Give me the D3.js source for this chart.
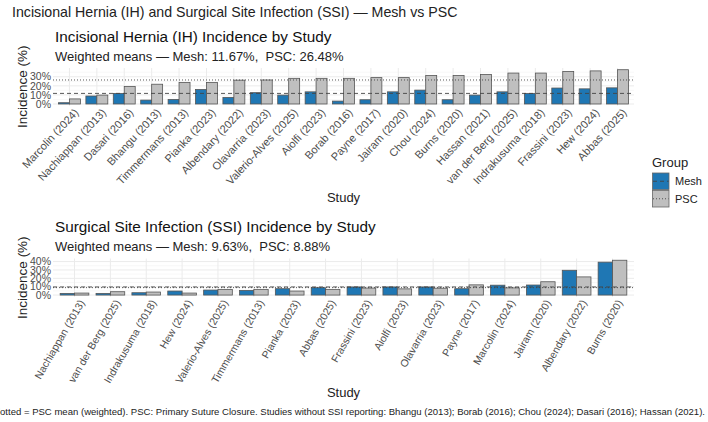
<!DOCTYPE html>
<html><head><meta charset="utf-8">
<script src="https://cdn.jsdelivr.net/npm/d3@7"></script>
<style>
html,body{margin:0;padding:0;background:#fff;}
svg{display:block;font-family:"Liberation Sans",Arial,sans-serif;}
text{white-space:pre;}
</style></head>
<body><svg id="chart" width="708" height="422"></svg>
<script>
// ---------- data ----------
const ihStudies = ["Marcolin (2024)","Nachiappan (2013)","Dasari (2016)","Bhangu (2013)","Timmermans (2013)","Pianka (2023)","Albendary (2022)","Olavarria (2023)","Valerio-Alves (2025)","Aiolfi (2023)","Borab (2016)","Payne (2017)","Jairam (2020)","Chou (2024)","Burns (2020)","Hassan (2021)","van der Berg (2025)","Indrakusuma (2018)","Frassini (2023)","Hew (2024)","Abbas (2025)"];
const ihMesh = [1.4,8.8,11.7,4.3,5.0,16.0,7.3,12.5,9.8,13.4,3.2,4.7,13.4,15.3,4.7,9.8,13.4,11.7,17.6,16.7,17.8];
const ihPSC  = [5.6,9.8,19.3,21.8,23.7,23.7,26.3,26.5,28.3,28.3,28.3,29.1,29.1,31.4,31.4,32.5,34.1,34.1,35.9,36.5,37.8];
const ihMeans = [11.67, 26.48];

const ssiStudies = ["Nachiappan (2013)","van der Berg (2025)","Indrakusuma (2018)","Hew (2024)","Valerio-Alves (2025)","Timmermans (2013)","Pianka (2023)","Abbas (2025)","Frassini (2023)","Aiolfi (2023)","Olavarria (2023)","Payne (2017)","Marcolin (2024)","Jairam (2020)","Albendary (2022)","Burns (2020)"];
const ssiMesh = [2.0,2.0,2.8,4.8,6.0,5.6,7.6,8.8,9.7,9.7,9.7,7.6,11.8,12.0,29.6,39.3];
const ssiPSC  = [2.4,4.0,3.6,2.4,6.8,6.8,4.8,6.8,8.4,7.4,8.2,12.2,8.6,15.9,21.7,41.6];
const ssiMeans = [9.63, 8.88];

const groups = ["Mesh","PSC"];
const groupFill = ["#1f77b4","#bfbfbf"];
const groupDash = ["4,3","1,2"];
const ihTicks = [0,10,20,30];
const ssiTicks = [0,10,20,30,40];

// ---------- drawing ----------
const svg = d3.select("#chart");

svg.append("text").attr("x",12).attr("y",17).attr("font-size",14.2).attr("fill","#222")
  .text("Incisional Hernia (IH) and Surgical Site Infection (SSI) — Mesh vs PSC");

function panel(o){
  const g = svg.append("g");
  const maxV = d3.max(o.mesh.concat(o.psc));
  const pad = maxV*0.05;
  const y = d3.scaleLinear().domain([-pad, maxV+pad]).range([o.bottom, o.top]);
  const n = o.studies.length;
  const step = (o.right-o.left)/(n-1+1.2);
  const xs = d3.scalePoint().domain(o.studies).range([o.left+step*0.6, o.right-step*0.6]);
  const inner = d3.scaleBand().domain(groups).range([-step*0.4, step*0.4]);

  // titles
  g.append("text").attr("x",55).attr("y",o.titleY).attr("font-size",15.3).attr("fill","#111").text(o.title);
  g.append("text").attr("x",55).attr("y",o.titleY+19).attr("font-size",13).attr("fill","#222").text(o.subtitle);

  // minor grid
  const minor = o.ticks.map(t=>t+5).filter(t=>y(t)>=o.top-0.5);
  g.selectAll(".mg").data(minor).join("line")
    .attr("x1",o.left).attr("x2",o.right).attr("y1",d=>y(d)).attr("y2",d=>y(d))
    .attr("stroke","#f3f3f3").attr("stroke-width",0.6);
  // major grid
  g.selectAll(".hg").data(o.ticks).join("line")
    .attr("x1",o.left).attr("x2",o.right).attr("y1",d=>y(d)).attr("y2",d=>y(d))
    .attr("stroke","#ebebeb").attr("stroke-width",1);
  g.selectAll(".vg").data(o.studies).join("line")
    .attr("x1",d=>xs(d)).attr("x2",d=>xs(d)).attr("y1",o.top).attr("y2",o.bottom)
    .attr("stroke","#ebebeb").attr("stroke-width",1);

  // bars
  const rows = [];
  o.studies.forEach((s,i)=>{ rows.push({s,g:0,v:o.mesh[i]}); rows.push({s,g:1,v:o.psc[i]}); });
  g.selectAll(".bar").data(rows).join("rect")
    .attr("x",d=>xs(d.s)+inner(groups[d.g]))
    .attr("width",inner.bandwidth())
    .attr("y",d=>y(d.v)).attr("height",d=>y(0)-y(d.v))
    .attr("fill",d=>groupFill[d.g]).attr("stroke","#555").attr("stroke-width",0.8);

  // mean lines
  o.means.forEach((m,i)=>{
    g.append("line").attr("x1",o.left).attr("x2",o.right).attr("y1",y(m)).attr("y2",y(m))
      .attr("stroke","#444").attr("stroke-width",0.9).attr("stroke-dasharray",groupDash[i]);
  });

  // y axis labels
  g.selectAll(".yl").data(o.ticks).join("text")
    .attr("x",o.left-2).attr("y",d=>y(d)).attr("dy","0.35em").attr("text-anchor","end")
    .attr("font-size",10.5).attr("fill","#4d4d4d").text(d=>d+"%");
  // x axis labels
  g.selectAll(".xl").data(o.studies).join("text")
    .attr("transform",d=>`translate(${xs(d)+o.lx},${o.bottom+2}) rotate(${-o.angle})`)
    .attr("text-anchor","end").attr("dy","0.72em")
    .attr("font-size",o.xfs).attr("fill","#4d4d4d").text(d=>d);
  // axis titles
  g.append("text").attr("transform",`translate(27,${(o.top+o.bottom)/2}) rotate(-90)`)
    .attr("text-anchor","middle").attr("font-size",13.5).attr("fill","#222").text("Incidence (%)");
  g.append("text").attr("x",(o.left+o.right)/2).attr("y",o.studyY).attr("text-anchor","middle")
    .attr("font-size",13).attr("fill","#222").text("Study");
}

panel({studies:ihStudies, mesh:ihMesh, psc:ihPSC, means:ihMeans, ticks:ihTicks,
  left:53, right:634, top:68, bottom:105.7, titleY:42, studyY:202, angle:47, lx:4, xfs:11,
  title:"Incisional Hernia (IH) Incidence by Study",
  subtitle:"Weighted means — Mesh: 11.67%,  PSC: 26.48%"});
panel({studies:ssiStudies, mesh:ssiMesh, psc:ssiPSC, means:ssiMeans, ticks:ssiTicks,
  left:53, right:634, top:258.5, bottom:296.8, titleY:232, studyY:397, angle:60, lx:4, xfs:10.5,
  title:"Surgical Site Infection (SSI) Incidence by Study",
  subtitle:"Weighted means — Mesh: 9.63%,  PSC: 8.88%"});

// legend
const lg = svg.append("g");
lg.append("text").attr("x",652).attr("y",167).attr("font-size",13).attr("fill","#222").text("Group");
groups.forEach((gname,i)=>{
  const yy = 173 + i*17.5;
  lg.append("rect").attr("x",652.5).attr("y",yy).attr("width",16.5).attr("height",16.5)
    .attr("fill",groupFill[i]).attr("stroke","#666").attr("stroke-width",0.8);
  lg.append("line").attr("x1",653).attr("x2",668.5).attr("y1",yy+8.25).attr("y2",yy+8.25)
    .attr("stroke","#444").attr("stroke-width",0.9).attr("stroke-dasharray",groupDash[i]);
  lg.append("text").attr("x",675).attr("y",yy+8.25).attr("dy","0.35em").attr("font-size",11)
    .attr("fill","#222").text(gname);
});

// caption (right-aligned, extends past the left edge as in the original)
svg.append("text").attr("x",705).attr("y",415).attr("text-anchor","end").attr("font-size",9.55).attr("fill","#222")
  .text("Dashed = Mesh mean (weighted); dotted = PSC mean (weighted). PSC: Primary Suture Closure. Studies without SSI reporting: Bhangu (2013); Borab (2016); Chou (2024); Dasari (2016); Hassan (2021).");
</script></body></html>
